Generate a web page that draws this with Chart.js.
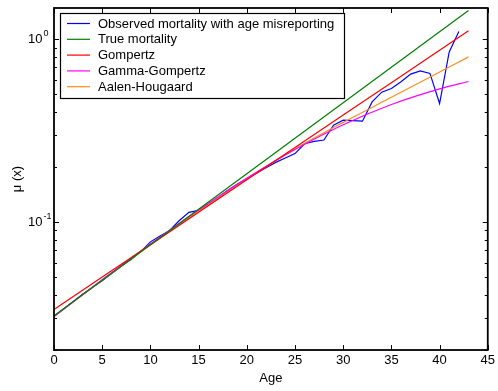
<!DOCTYPE html>
<html>
<head>
<meta charset="utf-8">
<script src="https://cdn.jsdelivr.net/npm/chart.js@4/dist/chart.umd.min.js"></script>
<style>
  html, body { margin: 0; padding: 0; background: #fff; }
  #wrap { width: 498px; height: 391px; }
</style>
</head>
<body>
<div id="wrap"><canvas id="mortChart" width="498" height="391"></canvas></div>
<script>
// single-year ages for the observed rates
const ages = [0,1,2,3,4,5,6,7,8,9,10,11,12,13,14,15,16,17,18,19,20,
              21,22,23,24,25,26,27,28,29,30,31,32,33,34,35,36,37,38,39,40,41,42];
const observed = [0.0305,0.0335,0.0368,0.0405,0.0440,0.0478,0.0525,0.0575,0.0625,0.0690,0.0780,
                  0.0840,0.0900,0.1020,0.1130,0.1160,0.1250,0.1360,0.1490,0.1610,0.1730,
                  0.1850,0.1980,0.2120,0.2240,0.2370,0.2680,0.2760,0.2810,0.3390,0.3610,
                  0.3590,0.3560,0.4540,0.5130,0.5370,0.5850,0.6440,0.6710,0.6500,0.4450,0.8520,1.1000];

// fitted curves, evaluated at a coarser age grid
const fitAges = [0,5,10,15,20,25,30,35,40,43];
const trueMort   = [0.0308,0.0481,0.0752,0.1175,0.1837,0.2871,0.4487,0.7015,1.0965,1.434];
const gompertz   = [0.0333,0.0501,0.0753,0.1132,0.1702,0.2559,0.3846,0.5781,0.8690,1.110];
const gammaGomp  = [0.0305,0.0484,0.0759,0.1165,0.1738,0.2494,0.3406,0.4395,0.5351,0.587];
const aalenHoug  = [0.0306,0.0481,0.0750,0.1148,0.1718,0.2512,0.3508,0.4808,0.6607,0.800];

const seriesNames = ['Observed mortality with age misreporting','True mortality','Gompertz','Gamma-Gompertz','Aalen-Hougaard'];
const seriesColors = ['#0000ff','#008000','#ff0000','#ff00ff','#ff8c1a'];

const xTicks = [0,5,10,15,20,25,30,35,40,45];
const yMajor = [0.1, 1];
const yMajorLabels = [['10','-1'],['10','0']];
const yMinor = [0.02,0.03,0.04,0.05,0.06,0.07,0.08,0.09,0.2,0.3,0.4,0.5,0.6,0.7,0.8,0.9];

const FONT = "'Liberation Sans', Arial, Helvetica, sans-serif";

function pts(xs, ys) {
  return ys.map((v, i) => ({ x: xs[i], y: v }));
}

const allSeries = [pts(ages, observed), pts(fitAges, trueMort), pts(fitAges, gompertz),
                   pts(fitAges, gammaGomp), pts(fitAges, aalenHoug)];

const datasets = allSeries.map((d, i) => ({
  label: seriesNames[i],
  data: d,
  borderColor: seriesColors[i],
  backgroundColor: seriesColors[i],
  borderWidth: 1.2,
  pointRadius: 0,
  fill: false,
  cubicInterpolationMode: i >= 3 ? 'monotone' : 'default',
  tension: 0
}));
// observed line drawn on top
datasets.push(datasets.shift());

// box, inward ticks, power-of-ten labels and the boxed legend
const matlabAxes = {
  id: 'matlabAxes',
  afterDraw(chart) {
    const ctx = chart.ctx;
    const a = chart.chartArea;
    const xs = chart.scales.x, ys = chart.scales.y;
    ctx.save();
    ctx.strokeStyle = '#000';
    ctx.lineWidth = 1.8;
    ctx.strokeRect(a.left, a.top, a.right - a.left, a.bottom - a.top);

    ctx.lineWidth = 1;
    ctx.beginPath();
    xTicks.forEach(v => {
      const px = Math.round(xs.getPixelForValue(v)) + 0.5;
      ctx.moveTo(px, a.bottom); ctx.lineTo(px, a.bottom - 5);
      ctx.moveTo(px, a.top); ctx.lineTo(px, a.top + 5);
    });
    yMajor.forEach(v => {
      const py = Math.round(ys.getPixelForValue(v)) + 0.5;
      ctx.moveTo(a.left, py); ctx.lineTo(a.left + 5, py);
      ctx.moveTo(a.right, py); ctx.lineTo(a.right - 5, py);
    });
    yMinor.forEach(v => {
      const py = Math.round(ys.getPixelForValue(v)) + 0.5;
      ctx.moveTo(a.left, py); ctx.lineTo(a.left + 3, py);
      ctx.moveTo(a.right, py); ctx.lineTo(a.right - 3, py);
    });
    ctx.stroke();

    ctx.fillStyle = '#000';
    ctx.textBaseline = 'middle';
    yMajor.forEach((v, i) => {
      const py = ys.getPixelForValue(v);
      ctx.font = '13px ' + FONT;
      ctx.textAlign = 'left';
      ctx.fillText(yMajorLabels[i][0], 28, py + 0.5);
      const w = ctx.measureText(yMajorLabels[i][0]).width;
      ctx.font = '9px ' + FONT;
      ctx.fillText(yMajorLabels[i][1], 28 + w + 1, py - 6);
    });

    // legend
    const lx = 60.5, ly = 13.5, lw = 284, lh = 85;
    ctx.fillStyle = '#fff';
    ctx.fillRect(lx, ly, lw, lh);
    ctx.strokeStyle = '#000';
    ctx.lineWidth = 1.2;
    ctx.strokeRect(lx, ly, lw, lh);
    ctx.font = '13px ' + FONT;
    seriesNames.forEach((name, i) => {
      const cy = 23.5 + i * 15.8;
      ctx.strokeStyle = seriesColors[i];
      ctx.lineWidth = 1.2;
      ctx.beginPath();
      ctx.moveTo(67, cy); ctx.lineTo(90, cy);
      ctx.stroke();
      ctx.fillStyle = '#000';
      ctx.fillText(name, 98, cy + 0.5);
    });
    ctx.restore();
  }
};

new Chart(document.getElementById('mortChart').getContext('2d'), {
  type: 'line',
  data: { datasets: datasets },
  options: {
    responsive: false,
    devicePixelRatio: 1,
    animation: false,
    layout: { padding: { top: 8, right: 8, left: 0, bottom: 0 } },
    plugins: { legend: { display: false }, tooltip: { enabled: false } },
    scales: {
      x: {
        type: 'linear', min: 0, max: 45,
        grid: { display: false, drawTicks: false },
        border: { display: false },
        ticks: { stepSize: 5, padding: 3, color: '#000', font: { family: FONT, size: 13 }, maxRotation: 0 },
        title: { display: true, text: 'Age', color: '#000', font: { family: FONT, size: 13 }, padding: { top: 0, bottom: 5 } },
        afterFit(s) { s.height = 41; }
      },
      y: {
        type: 'logarithmic', min: 0.02, max: 1.48,
        grid: { display: false, drawTicks: false },
        border: { display: false },
        ticks: { display: false },
        title: { display: true, text: 'μ (x)', color: '#000', font: { family: FONT, size: 13 }, padding: { top: 10, bottom: 0 } },
        afterFit(s) { s.width = 54; }
      }
    }
  },
  plugins: [matlabAxes]
});
</script>
</body>
</html>
